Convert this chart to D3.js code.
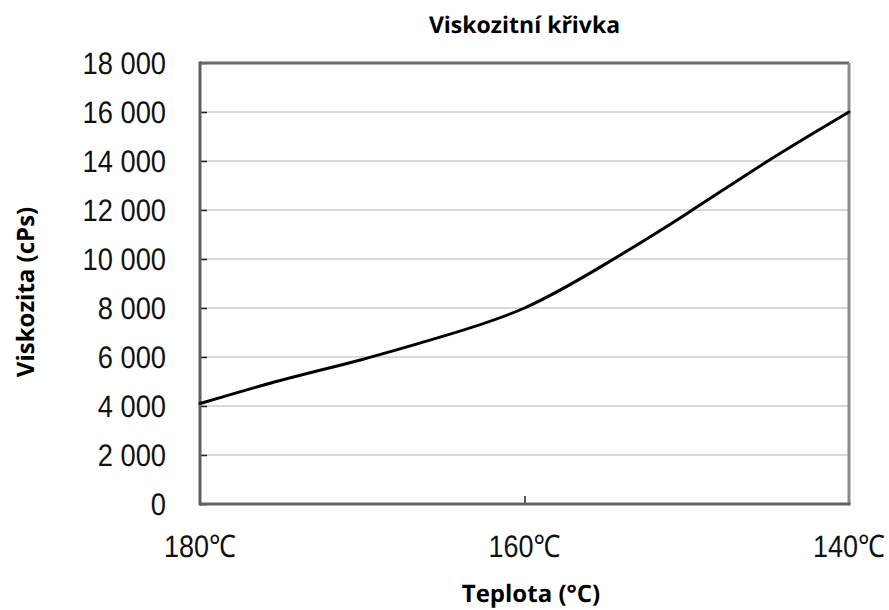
<!DOCTYPE html>
<html>
<head>
<meta charset="utf-8">
<script src="https://cdn.jsdelivr.net/npm/d3@7"></script>
<style>
	body { margin: 0; background: #fff; }
</style>
</head>
<body>
<div class="chart"></div>
<script>
	// Values
	var temperatures = [180, 175, 170, 165, 160, 155, 150, 145, 140],
		viscosity = [4100, 5050, 5900, 6850, 8000, 9800, 11850, 14000, 16000],
		yTickValues = [0, 2000, 4000, 6000, 8000, 10000, 12000, 14000, 16000, 18000],
		xTickValues = [180, 160, 140];

	var tickFont = '"Liberation Sans", Arial, sans-serif',
		titleFont = '"Open Sans", "Noto Sans", sans-serif',
		frameColor = '#606060',
		gridColor = '#cdcdcd';

	var width = 889, height = 610;
	var margin = {top: 63, left: 200, bottom: 106, right: 40};
	var innerWidth = width - margin.left - margin.right;
	var innerHeight = height - margin.top - margin.bottom;

	var x = d3.scaleLinear().domain([180, 140]).range([0, innerWidth]);
	var y = d3.scaleLinear().domain([0, 18000]).range([innerHeight, 0]);

	var svg = d3.select('.chart').append('svg')
		.attr('width', width)
		.attr('height', height)
		.attr('text-rendering', 'geometricPrecision');

	var g = svg.append('g')
		.attr('transform', 'translate(' + margin.left + ',' + margin.top + ')');

	// Squeeze a label horizontally so it reads like a narrow font.
	function narrow(sel, factor) {
		sel.each(function() {
			var w = this.getComputedTextLength();
			d3.select(this)
				.attr('textLength', w * factor)
				.attr('lengthAdjust', 'spacingAndGlyphs');
		});
	}

	// gridlines
	g.selectAll('.grid')
		.data(yTickValues.filter(function(d) { return d > 0 && d < 18000; }))
		.enter().append('line')
		.attr('x1', 0)
		.attr('x2', innerWidth)
		.attr('y1', function(d) { return y(d); })
		.attr('y2', function(d) { return y(d); })
		.attr('stroke', gridColor)
		.attr('stroke-width', 1.5);

	// y axis: labels on the left, ticks pointing inward
	var yAxis = g.append('g')
		.call(d3.axisRight(y)
			.tickValues(yTickValues)
			.tickSize(7)
			.tickFormat(function() { return ''; }));
	yAxis.select('.domain').remove();
	yAxis.selectAll('.tick line').attr('stroke', '#222').attr('stroke-width', 1.5);

	g.selectAll('.ylabel')
		.data(yTickValues)
		.enter().append('text')
		.attr('x', -34)
		.attr('y', function(d) { return y(d); })
		.attr('dy', '0.36em')
		.attr('text-anchor', 'end')
		.attr('font-family', tickFont)
		.attr('font-size', '31px')
		.attr('fill', '#111')
		.text(function(d) { return d3.format(',')(d).replace(/,/g, ' '); })
		.call(narrow, 0.88);

	// x axis: tick at 160 pointing up
	var xAxis = g.append('g')
		.attr('transform', 'translate(0,' + innerHeight + ')')
		.call(d3.axisTop(x)
			.tickValues([160])
			.tickSize(8)
			.tickFormat(function() { return ''; }));
	xAxis.select('.domain').remove();
	xAxis.selectAll('.tick line').attr('stroke', '#222').attr('stroke-width', 1.5);

	g.selectAll('.xlabel')
		.data(xTickValues)
		.enter().append('text')
		.attr('x', function(d) { return x(d); })
		.attr('y', innerHeight + 53)
		.attr('text-anchor', 'middle')
		.attr('font-family', tickFont)
		.attr('font-size', '31px')
		.attr('fill', '#111')
		.text(function(d) { return d + '\u2103'; })
		.call(narrow, 0.87);

	// frame
	g.append('line').attr('x1', 0).attr('x2', innerWidth).attr('y1', 0).attr('y2', 0)
		.attr('stroke', '#6a6a6a').attr('stroke-width', 3);
	g.append('line').attr('x1', innerWidth).attr('x2', innerWidth).attr('y1', 0).attr('y2', innerHeight)
		.attr('stroke', '#8a8a8a').attr('stroke-width', 3);
	g.append('line').attr('x1', 0).attr('x2', 0).attr('y1', -1.5).attr('y2', innerHeight + 1.5)
		.attr('stroke', frameColor).attr('stroke-width', 3);
	g.append('line').attr('x1', 0).attr('x2', innerWidth + 1.5).attr('y1', innerHeight).attr('y2', innerHeight)
		.attr('stroke', frameColor).attr('stroke-width', 3);

	// the curve
	var line = d3.line()
		.x(function(d, i) { return x(temperatures[i]); })
		.y(function(d) { return y(d); })
		.curve(d3.curveNatural);
	g.append('path')
		.datum(viscosity)
		.attr('d', line)
		.attr('fill', 'none')
		.attr('stroke', '#000')
		.attr('stroke-width', 3)
		.attr('stroke-linejoin', 'round')
		.attr('stroke-linecap', 'round');

	// titles
	svg.append('text')
		.attr('x', margin.left + innerWidth / 2)
		.attr('y', 33)
		.attr('text-anchor', 'middle')
		.attr('font-family', titleFont)
		.attr('font-weight', 'bold')
		.attr('font-size', '23px')
		.attr('fill', '#000')
		.text('Viskozitní křivka');
	svg.append('text')
		.attr('x', 531)
		.attr('y', 602)
		.attr('text-anchor', 'middle')
		.attr('font-family', titleFont)
		.attr('font-weight', 'bold')
		.attr('font-size', '24px')
		.attr('fill', '#000')
		.text('Teplota (°C)');
	svg.append('text')
		.attr('transform', 'translate(34,292) rotate(-90)')
		.attr('text-anchor', 'middle')
		.attr('font-family', titleFont)
		.attr('font-weight', 'bold')
		.attr('font-size', '24px')
		.attr('fill', '#000')
		.text('Viskozita (cPs)');
</script>
</body>
</html>
